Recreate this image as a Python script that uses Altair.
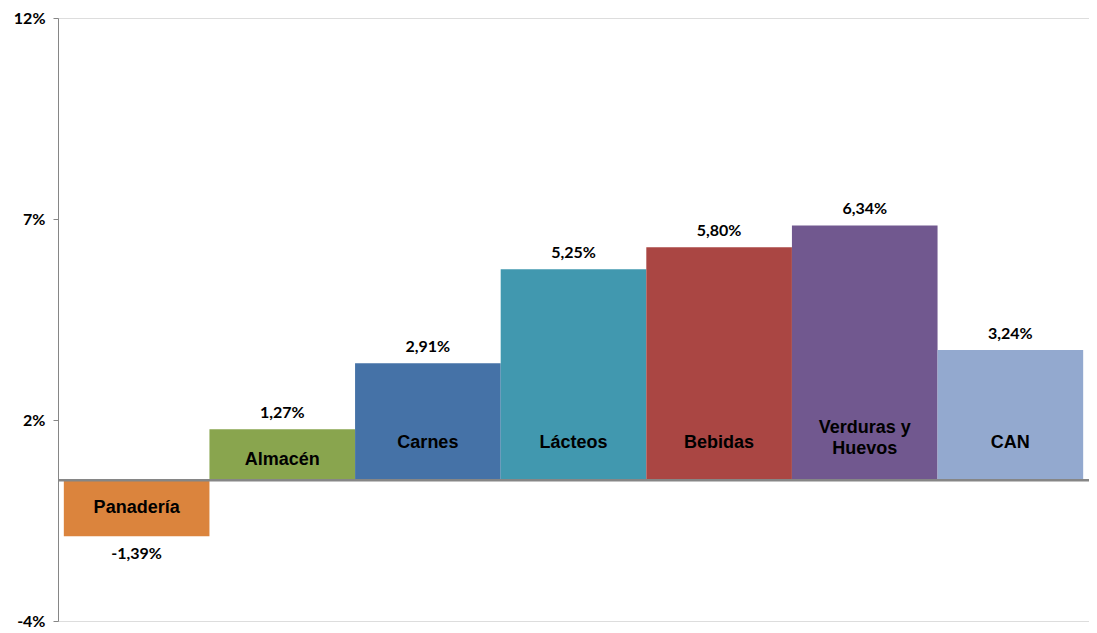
import altair as alt
import pandas as pd

categories = ["Panadería", "Almacén", "Carnes", "Lácteos", "Bebidas", "Verduras y Huevos", "CAN"]
display_names = ["Panadería", "Almacén", "Carnes", "Lácteos", "Bebidas", "Verduras y\nHuevos", "CAN"]
values = [-1.39, 1.27, 2.91, 5.25, 5.80, 6.34, 3.24]
colors = ["#DB843D", "#89A54E", "#4572A7", "#4198AF", "#AA4643", "#71588F", "#93A9CF"]

tick_values = [-3.5, 1.5, 6.5, 11.5]
tick_labels = ["-4%", "2%", "7%", "12%"]

df = pd.DataFrame({"cat": categories, "name": display_names, "value": values})

label_expr = " : ".join(
    [f"datum.value == {v} ? '{l}'" for v, l in zip(tick_values, tick_labels)] + ["''"]
)

x_enc = alt.X("cat:N", sort=categories,
              scale=alt.Scale(paddingInner=0, paddingOuter=0.04),
              axis=None)
y_scale = alt.Scale(domain=[-3.5, 11.5], nice=False, zero=False)

base = alt.Chart(df).transform_calculate(
    vlabel="(datum.value < 0 ? '-' : '') + replace(format(abs(datum.value), '.2f'), '.', ',') + '%'",
    label_y="datum.value < 0 ? datum.value / 2 : min(datum.value * 0.4, 0.92)",
    multi="indexof(datum.name, '\\n') >= 0",
)

bars = base.mark_bar().encode(
    x=x_enc,
    y=alt.Y("value:Q", scale=y_scale,
            axis=alt.Axis(values=tick_values, labelExpr=label_expr, title=None,
                          grid=False, domainColor="#868686", tickColor="#868686",
                          tickSize=5, labelFont="Lato", labelFontWeight="bold",
                          labelFontSize=16, labelColor="#000000", labelPadding=8)),
    color=alt.Color("cat:N", scale=alt.Scale(domain=categories, range=colors), legend=None),
)

zero = alt.Chart(pd.DataFrame({"z": [0]})).mark_rule(color="#868686", strokeWidth=2.5).encode(
    y=alt.Y("z:Q", scale=y_scale)
)

name_style = dict(font="Liberation Sans", fontWeight="bold", fontSize=18,
                  color="#000000", baseline="middle", lineBreak="\n", lineHeight=21)

names_single = base.transform_filter("!datum.multi").mark_text(**name_style).encode(
    x=x_enc,
    y=alt.Y("label_y:Q", scale=y_scale),
    text="name:N",
)

names_multi = base.transform_filter("datum.multi").mark_text(dy=-15, **name_style).encode(
    x=x_enc,
    y=alt.Y("label_y:Q", scale=y_scale),
    text="name:N",
)

pos_vals = base.transform_filter("datum.value >= 0").mark_text(
    font="Lato", fontWeight="bold", fontSize=16, color="#000000",
    baseline="bottom", dy=-8).encode(
    x=x_enc,
    y=alt.Y("value:Q", scale=y_scale),
    text="vlabel:N",
)

neg_vals = base.transform_filter("datum.value < 0").mark_text(
    font="Lato", fontWeight="bold", fontSize=16, color="#000000",
    baseline="top", dy=10).encode(
    x=x_enc,
    y=alt.Y("value:Q", scale=y_scale),
    text="vlabel:N",
)

chart = alt.layer(bars, zero, names_single, names_multi, pos_vals, neg_vals).properties(
    width=1031, height=603,
    autosize=alt.AutoSizeParams(type="none"),
    padding={"left": 50, "top": 10, "right": 0, "bottom": 8},
).configure_view(stroke=None).configure(background="#FFFFFF")

chart.save("out.html", embed_options={"renderer": "svg", "actions": False})
